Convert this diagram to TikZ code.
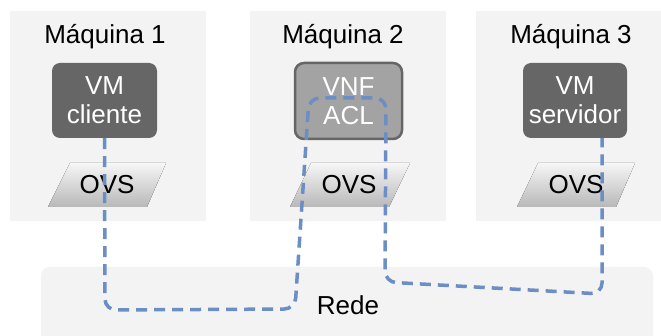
\documentclass[tikz,border=0pt]{standalone}
\usepackage{fontspec}
\setmainfont{Liberation Sans}
\begin{document}
\begin{tikzpicture}[x=1pt,y=-1pt,
  machine/.style={fill=mgray,draw=none,minimum width=196pt,minimum height=210pt,inner sep=0pt},
  vmbox/.style={fill=vmdark,rounded corners=8pt,inner sep=0pt,text=white,align=center,font=\fontsize{26}{29}\selectfont},
  vnfbox/.style={fill=vnfgray,draw=vmdark,line width=2.5pt,rounded corners=9pt,inner sep=0pt,text=white,align=center,font=\fontsize{26}{29}\selectfont},
  lab/.style={font=\fontsize{26}{29}\selectfont,inner sep=0pt},
  ovsshape/.style={top color=ovstop,bottom color=ovsbot,draw=none},
  link/.style={draw=linkblue,line width=3.5pt,dash pattern=on 11pt off 7pt,rounded corners=11pt}
]
\definecolor{mgray}{HTML}{F3F3F3}
\definecolor{vmdark}{HTML}{666666}
\definecolor{vnfgray}{HTML}{A3A3A3}
\definecolor{ovstop}{HTML}{F6F6F6}
\definecolor{ovsbot}{HTML}{B8B8B8}
\definecolor{linkblue}{HTML}{6B8EC4}
\useasboundingbox (0,0) rectangle (661,336);
\fill[white] (0,0) rectangle (661,336);
\begin{scope}
\clip (0,0) rectangle (661,336);
% machines
\node[machine] (m1) at (108,116) {};
\node[machine] (m2) at (348,116) {};
\node[machine] (m3) at (574,116) {};
% network
\node[fill=mgray,rounded corners=9pt,minimum width=612pt,minimum height=90pt,inner sep=0pt] (net) at (347,312) {};
\end{scope}
\node[lab] (l1) at (105,37) {Máquina 1};
\node[lab] (l2) at (343,37) {Máquina 2};
\node[lab] (l3) at (571,37) {Máquina 3};
% VMs
\node[vmbox,minimum width=105pt,minimum height=75pt] (vmc) at (104.5,100.5) {VM\\cliente};
\node[vnfbox,minimum width=107pt,minimum height=76pt] (vnf) at (348.5,101) {VNF\\ACL};
\node[vmbox,minimum width=104pt,minimum height=75pt] (vms) at (575,100.5) {VM\\servidor};
% OVS
\fill[ovsshape] (48,207) -- (147,207) -- (166,163) -- (70,163) -- cycle;
\fill[ovsshape] (290,207) -- (389,207) -- (410,163) -- (311,163) -- cycle;
\fill[ovsshape] (517,207) -- (616,207) -- (635,163) -- (538,163) -- cycle;
\node[lab] (o1) at (107,185) {OVS};
\node[lab] (o2) at (349,185) {OVS};
\node[lab] (o3) at (576,185) {OVS};
\node[lab] (rede) at (348,305) {Rede};
% link
\coordinate (c1) at (105,310);
\coordinate (c2) at (295,309);
\coordinate (c3) at (309,98);
\coordinate (c4) at (386,98);
\coordinate (c5) at (385,282);
\coordinate (c6) at (602,294);
\draw[link] (vmc.south) -- (c1) -- (c2) -- (c3) -- (c4) -- (c5) -- (c6) -- (vms.south -| c6);
\end{tikzpicture}
\end{document}
